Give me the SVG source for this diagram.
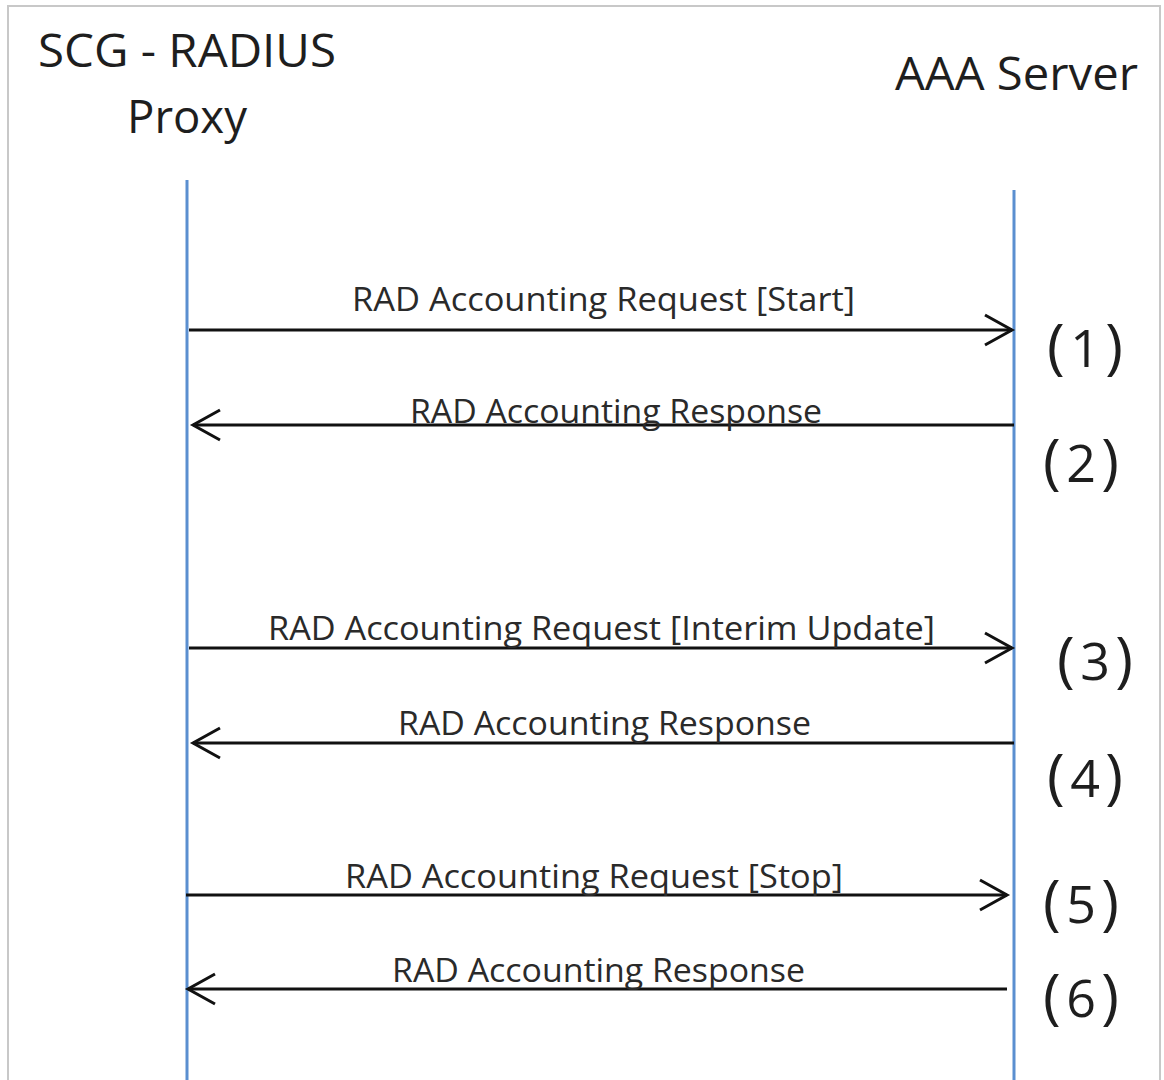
<svg xmlns="http://www.w3.org/2000/svg" width="1164" height="1080" viewBox="0 0 1164 1080">
<style>
.t{font-family:"Open Sans","Noto Sans","DejaVu Sans",sans-serif;fill:#1e1e1e}
.h{font-size:46px}
.m{font-size:33px;fill:#2a2a2a}
.n{font-size:52px}
.p{font-size:60px}
.life{stroke:#5b8fd0;stroke-width:3;fill:none}
.msg{stroke:#111;stroke-width:2.8;fill:none;marker-end:url(#ah)}
</style>
<defs>
<marker id="ah" markerUnits="userSpaceOnUse" markerWidth="40" markerHeight="40" viewBox="-32 -20 40 40" refX="0" refY="0" orient="auto">
<path d="M-27,-15 L0,0 L-27,15" fill="none" stroke="#111" stroke-width="3"/>
</marker>
</defs>
<rect x="0" y="0" width="1164" height="1080" fill="#fff"/>
<path d="M8,1080 L8,6 L1160,6 L1160,1080" fill="none" stroke="#c8c8c8" stroke-width="2"/>
<g id="proxy">
<text class="t h" x="38" y="67" textLength="298" lengthAdjust="spacingAndGlyphs">SCG - RADIUS</text>
<text class="t h" x="127" y="133" textLength="120" lengthAdjust="spacingAndGlyphs">Proxy</text>
<line class="life" x1="187" y1="180" x2="187" y2="1080"/>
</g>
<g id="aaa">
<text class="t h" x="895" y="90" textLength="243" lengthAdjust="spacingAndGlyphs">AAA Server</text>
<line class="life" x1="1014" y1="190" x2="1014" y2="1080"/>
</g>
<g id="connectors">
<line class="msg" x1="189" y1="330" x2="1012" y2="330"/>
<line class="msg" x1="1014" y1="425" x2="193" y2="425"/>
<line class="msg" x1="189" y1="648" x2="1012" y2="648"/>
<line class="msg" x1="1014" y1="743" x2="193" y2="743"/>
<line class="msg" x1="186" y1="895" x2="1007" y2="895"/>
<line class="msg" x1="1007" y1="989" x2="188" y2="989"/>
</g>
<g id="labels">
<text class="t m" x="352" y="311" textLength="503" lengthAdjust="spacingAndGlyphs">RAD Accounting Request  [Start]</text>
<text class="t m" x="410" y="423" textLength="412" lengthAdjust="spacingAndGlyphs">RAD Accounting Response</text>
<text class="t m" x="268" y="640" textLength="667" lengthAdjust="spacingAndGlyphs">RAD Accounting Request [Interim Update]</text>
<text class="t m" x="398" y="735" textLength="413" lengthAdjust="spacingAndGlyphs">RAD Accounting Response</text>
<text class="t m" x="345" y="888" textLength="498" lengthAdjust="spacingAndGlyphs">RAD Accounting Request  [Stop]</text>
<text class="t m" x="392" y="982" textLength="413" lengthAdjust="spacingAndGlyphs">RAD Accounting Response</text>
</g>
<g id="numbers">
<text class="t n" x="1047" y="367" textLength="76" lengthAdjust="spacing"><tspan class="p">(</tspan>1<tspan class="p">)</tspan></text>
<text class="t n" x="1043" y="482" textLength="76" lengthAdjust="spacing"><tspan class="p">(</tspan>2<tspan class="p">)</tspan></text>
<text class="t n" x="1057" y="680" textLength="76" lengthAdjust="spacing"><tspan class="p">(</tspan>3<tspan class="p">)</tspan></text>
<text class="t n" x="1047" y="797" textLength="76" lengthAdjust="spacing"><tspan class="p">(</tspan>4<tspan class="p">)</tspan></text>
<text class="t n" x="1043" y="923" textLength="76" lengthAdjust="spacing"><tspan class="p">(</tspan>5<tspan class="p">)</tspan></text>
<text class="t n" x="1043" y="1017" textLength="76" lengthAdjust="spacing"><tspan class="p">(</tspan>6<tspan class="p">)</tspan></text>
</g>
</svg>
